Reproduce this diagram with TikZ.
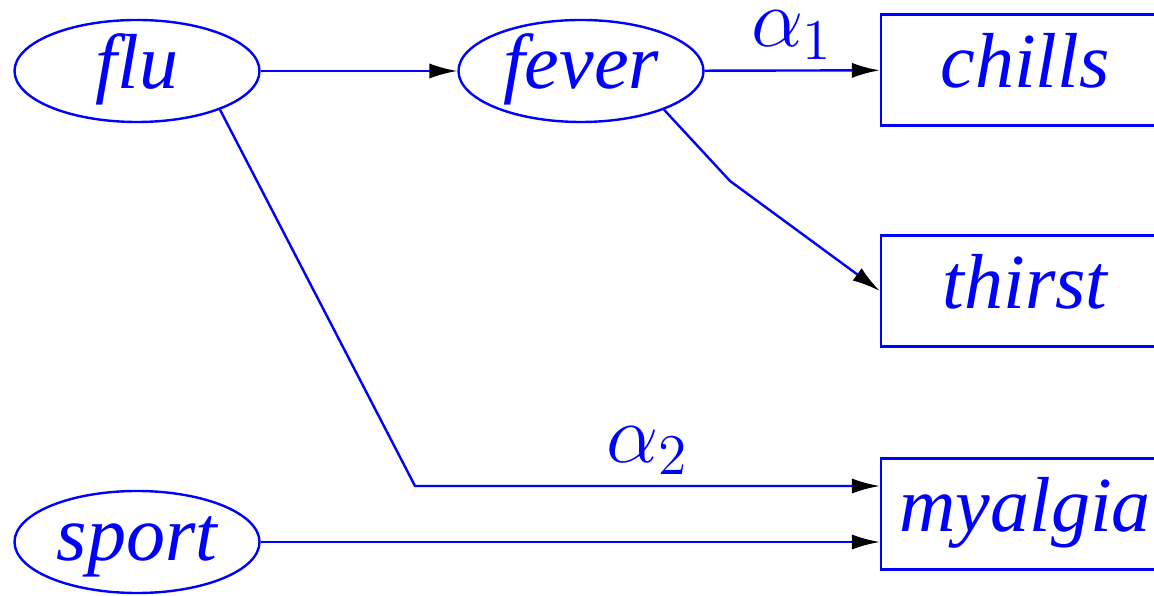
\documentclass[tikz,border=0pt]{standalone}
\usepackage{fontspec}
\setmainfont{Liberation Serif}
\usetikzlibrary{positioning,arrows.meta,shapes.geometric}

\begin{document}
\begin{tikzpicture}[
  x=0.25pt,y=-0.25pt,
  every node/.style={text=blue,font=\fontsize{19.5}{23}\selectfont\itshape},
  var/.style={draw=blue,line width=0.6pt,ellipse,inner sep=0pt,minimum width=61.25pt,minimum height=25.5pt,text height=13.5pt,text depth=4.5pt},
  obs/.style={draw=blue,line width=0.6pt,rectangle,inner sep=0pt,minimum width=72pt,minimum height=27.75pt,text height=13.5pt,text depth=4.5pt},
  arr/.style={draw=blue,line width=0.6pt,-{Latex[length=7pt,width=3.8pt,color=black]}},
  wt/.style={font=\fontsize{20.5}{24}\selectfont,inner sep=0pt}
]
\useasboundingbox (0,0) rectangle (1154,596);
\clip (0,0) rectangle (1154,596);
% hidden causes
\node[var] (flu) at (137,71) {flu};
\node[var] (fever) at (581,71) {fever};
\node[var] (sport) at (137,542) {sport};
% symptoms
\node[obs] (chills) at (1025,70) {chills};
\node[obs] (thirst) at (1025,291) {thirst};
\node[obs] (myalgia) at (1025,514) {myalgia};
% links
\coordinate (k1) at (730,181);
\coordinate (k2) at (415,486);
\draw[arr] (flu) -- (fever);
\draw[arr] (fever) -- node[wt,above=2.5pt] (a1) {$\alpha_1$} (chills);
\draw[arr] (fever.-25) -- (k1) -- (thirst.west);
\draw[arr] (flu.-25) -- (k2) -- node[wt,above=2.5pt] (a2) {$\alpha_2$} (k2 -| myalgia.west);
\draw[arr] (sport) -- (sport -| myalgia.west);
\end{tikzpicture}
\end{document}
